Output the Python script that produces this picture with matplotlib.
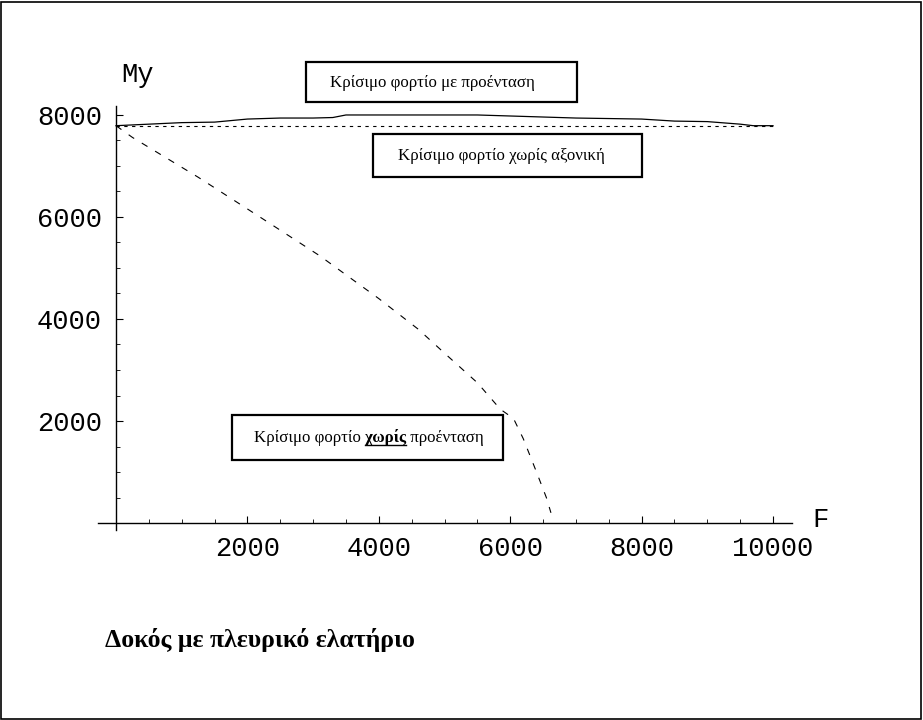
import matplotlib
matplotlib.use("Agg")
import matplotlib.pyplot as plt
from matplotlib.patches import Rectangle
from matplotlib.lines import Line2D
from matplotlib.ticker import MultipleLocator, FixedLocator

# critical load with pre-tension (solid)
F_pre = [0, 500, 1000, 1500, 2000, 2500, 3000, 3300, 3500, 4000, 4500, 5000,
         5500, 6000, 6500, 7000, 7500, 8000, 8500, 9000, 9500, 9700, 10000]
My_pre = [7790, 7820, 7850, 7860, 7920, 7940, 7940, 7950, 8000, 8000, 8000, 8000,
          8000, 7980, 7960, 7940, 7930, 7920, 7880, 7870, 7820, 7790, 7790]

# critical load without axial force (flat)
F_noaxial = [0, 10000]
My_noaxial = [7790, 7790]

# critical load without pre-tension (falls to zero near F = 6620)
F_nopre = [0, 250, 1250, 2250, 3100, 4000, 4600, 5000, 5500, 5850, 6050, 6200,
           6400, 6550, 6620]
My_nopre = [7790, 7560, 6780, 5950, 5240, 4400, 3800, 3330, 2750, 2230, 2050, 1650,
            1000, 500, 200]

x_major = [2000, 4000, 6000, 8000, 10000]
y_major = [2000, 4000, 6000, 8000]

W, H = 923, 720


def fp(x, y):
    # pixel position (from top-left) -> figure fraction
    return x / W, 1 - y / H


fig = plt.figure(figsize=(W / 100, H / 100), dpi=100)
fig.patch.set_facecolor("white")

left, right, top, bottom = 98, 792, 106, 530
ax = fig.add_axes([left / W, 1 - bottom / H, (right - left) / W, (bottom - top) / H])
ax.set_xlim(-274, 10289)
ax.set_ylim(-137, 8176)
ax.patch.set_alpha(0)

for s in ("top", "right"):
    ax.spines[s].set_visible(False)
ax.spines["left"].set_position(("data", 0))
ax.spines["bottom"].set_position(("data", 0))
for s in ("left", "bottom"):
    ax.spines[s].set_linewidth(1.0)

ax.xaxis.set_major_locator(FixedLocator(x_major))
ax.yaxis.set_major_locator(FixedLocator(y_major))
ax.xaxis.set_minor_locator(MultipleLocator(500))
ax.yaxis.set_minor_locator(MultipleLocator(500))
ax.tick_params(which="major", direction="in", length=5, width=0.8, labelsize=19.5)
ax.tick_params(which="minor", direction="in", length=3, width=0.6)
ax.tick_params(axis="x", which="major", pad=9)
ax.tick_params(axis="y", which="major", pad=10)
for lab in ax.get_xticklabels() + ax.get_yticklabels():
    lab.set_family("Liberation Mono")

ax.plot(F_pre, My_pre, color="black", lw=0.9, clip_on=False)
ax.plot(F_noaxial, My_noaxial, color="black", lw=0.8, linestyle=(0, (3, 4)), clip_on=False)
ax.plot(F_nopre, My_nopre, color="black", lw=0.8, linestyle=(0, (6, 8)), clip_on=False)

mono = dict(family="Liberation Mono", fontsize=19.5, color="black")
fig.text(*fp(121, 75), "My", ha="left", va="center", **mono)
fig.text(*fp(812, 520), "F", ha="left", va="center", **mono)

serif = dict(family="Liberation Serif", fontsize=12.2, color="black")


def box(x0, y0, x1, y1):
    bx, by = fp(x0, y1)
    fig.patches.append(Rectangle((bx, by), (x1 - x0) / W, (y1 - y0) / H,
                                 transform=fig.transFigure, fill=False,
                                 edgecolor="black", lw=1.6))


box(306, 62, 577, 102)
fig.text(*fp(330, 83), "Κρίσιμο φορτίο με προένταση", ha="left", va="center", **serif)

box(373, 134, 642, 177)
fig.text(*fp(398, 156), "Κρίσιμο φορτίο χωρίς αξονική", ha="left", va="center", **serif)

box(232, 415, 503, 460)
t1 = fig.text(*fp(254, 438), "Κρίσιμο φορτίο ", ha="left", va="center", **serif)
t2 = ax.annotate("χωρίς", xy=(1, 0), xycoords=t1, ha="left", va="bottom",
                 fontweight="bold", **serif)
t3 = ax.annotate(" προένταση", xy=(1, 0), xycoords=t2, ha="left", va="bottom", **serif)

fig.text(*fp(105, 640), "Δοκός με πλευρικό ελατήριο", ha="left", va="center",
         family="Liberation Serif", fontsize=18.5, fontweight="bold")

# outer frame
fig.patches.append(Rectangle((0.5 / W, 1.5 / H), (W - 2.5) / W, (H - 3) / H,
                             transform=fig.transFigure, fill=False,
                             edgecolor="black", lw=1.2))

# underline the bold word
fig.canvas.draw()
bb = t2.get_window_extent()
uy = bb.y0 + 1
fig.lines.append(Line2D([bb.x0 / W, bb.x1 / W], [uy / H, uy / H],
                        transform=fig.transFigure, color="black", lw=1.0))

fig.savefig("out.png", dpi=100)
